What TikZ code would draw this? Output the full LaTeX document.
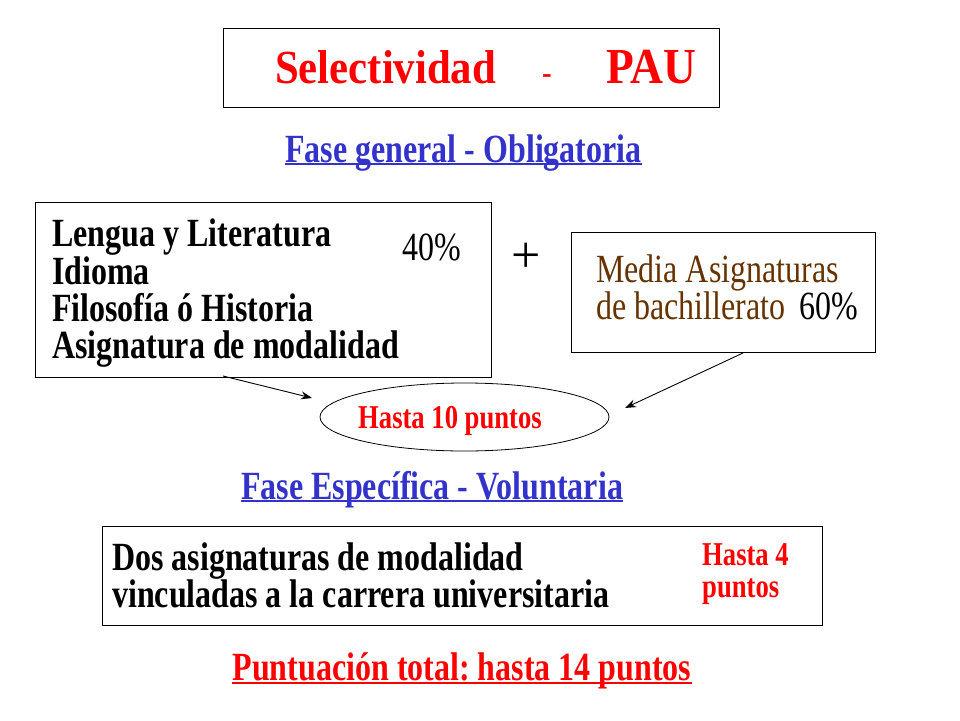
\documentclass[tikz,border=0pt]{standalone}
\usepackage{fontspec}
\setmainfont{Liberation Serif}
\newfontfamily\bodyf[FakeStretch=0.8]{Liberation Serif}
\newfontfamily\titlef[FakeStretch=0.9]{Liberation Serif}
\usetikzlibrary{shapes.geometric,arrows.meta}
\definecolor{pred}{RGB}{255,0,0}
\definecolor{pblue}{RGB}{51,51,204}
\definecolor{pbrown}{RGB}{102,51,0}
\frenchspacing
\begin{document}
\begin{tikzpicture}[x=1pt,y=-1pt,
  box/.style={draw=black,line width=1.3pt,anchor=north west,inner sep=0pt},
  txt/.style={inner sep=0pt,anchor=base west},
  body/.style={font=\bodyf\fontsize{40}{40}\selectfont},
  bodyb/.style={font=\bodyf\bfseries\fontsize{40}{40}\selectfont},
  small/.style={font=\bodyf\bfseries\fontsize{33.3}{33.3}\selectfont},
  ttl/.style={font=\titlef\bfseries\fontsize{47.5}{47.5}\selectfont,text=pred},
  heading/.style={inner sep=0pt,anchor=base,font=\bodyf\bfseries\fontsize{40}{40}\selectfont},
  uline/.style={line width=2pt},
  arr/.style={line width=0.9pt,-{Stealth[length=11pt,width=8pt]}}
]
\useasboundingbox (0,0) rectangle (960,720);

% title
\node[box,minimum width=496pt,minimum height=79pt] (tbox) at (223,28) {};
\node[txt,ttl] (sel) at (275,83) {Selectividad};
\node[txt,font=\titlef\bfseries\fontsize{32}{32}\selectfont,text=pred] (dash) at (542,83) {-};
\node[txt,ttl,font=\titlef\bfseries\fontsize{50.5}{50.5}\selectfont] (pau) at (606,83) {PAU};

% heading 1
\node[heading,text=pblue] (h1) at (463.5,162) {Fase general - Obligatoria};
\draw[uline,pblue] ([yshift=-2pt]h1.base west) -- ([yshift=-2pt]h1.base east);

% box 1
\node[box,minimum width=456pt,minimum height=175pt] (b1) at (35,202) {};
\node[txt,bodyb] (l1) at (52,246) {Lengua y Literatura};
\node[txt,bodyb] (l2) at (52,284) {Idioma};
\node[txt,bodyb] (l3) at (52,321) {Filosofía ó Historia};
\node[txt,bodyb] (l4) at (52,358) {Asignatura de modalidad};
\node[txt,body] (p40) at (402,260) {40\%};

% plus
\node[inner sep=0pt,font=\fontsize{52}{52}\selectfont] (plus) at (526,258) {+};

% box 2
\node[box,minimum width=304pt,minimum height=120pt] (b2) at (571,232) {};
\node[txt,body,text=pbrown] (m1) at (596,282) {Media Asignaturas};
\node[txt,body,text=pbrown] (m2) at (596,319) {de bachillerato};
\node[txt,body] (p60) at (799,319) {60\%};

% ellipse
\node[draw,ellipse,line width=0.8pt,minimum width=289pt,minimum height=68pt,inner sep=0pt] (ell) at (464.5,417) {};
\node[txt,small,text=pred] (h10) at (358,428) {Hasta 10 puntos};

% arrows
\coordinate (a1s) at (223,376);
\coordinate (a1e) at (312,398);
\coordinate (a2s) at (743,353);
\coordinate (a2e) at (625,408);
\draw[arr] (a1s) -- (a1e);
\draw[arr] (a2s) -- (a2e);

% heading 2
\node[heading,text=pblue] (h2) at (432,499) {Fase Específica - Voluntaria};
\draw[uline,pblue] ([yshift=-2pt]h2.base west) -- ([yshift=-2pt]h2.base east);

% box 3
\node[box,minimum width=720pt,minimum height=99pt] (b3) at (102,526) {};
\node[txt,bodyb] (d1) at (112,570) {Dos asignaturas de modalidad};
\node[txt,bodyb] (d2) at (112,607) {vinculadas a la carrera universitaria};
\node[txt,small,text=pred] (h4a) at (702,565) {Hasta 4};
\node[txt,small,text=pred] (h4b) at (702,597) {puntos};

% total
\node[heading,text=pred] (tot) at (462,680) {Puntuación total: hasta 14 puntos};
\draw[uline,pred] ([yshift=-3pt]tot.base west) -- ([yshift=-3pt]tot.base east);
\end{tikzpicture}
\end{document}
